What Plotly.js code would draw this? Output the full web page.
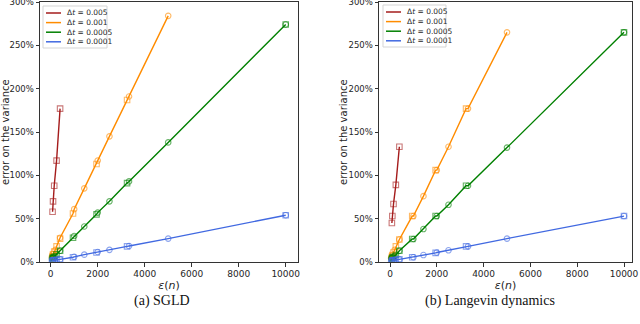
<!DOCTYPE html>
<html><head><meta charset="utf-8">
<script src="https://cdn.plot.ly/plotly-3.0.1.min.js"></script>
<style>html,body{margin:0;padding:0;background:#fff}#chart{width:640px;height:324px}</style>
</head><body><div id="chart"></div>
<script>
// x positions (ε(n)) of the circle-marked and square-marked points
const xCircle = [50, 100, 200, 400, 1000, 1429, 2000, 2500, 3333, 5000, 10000];
const xSquare = [80, 100, 150, 250, 400, 950, 1950, 3250, 10000];

const seriesNames = ['Δ<i>t</i> = 0.005', 'Δ<i>t</i> = 0.001', 'Δ<i>t</i> = 0.0005', 'Δ<i>t</i> = 0.0001'];
const seriesColors = ['#a51c1c', '#ff8c00', '#008000', '#4169e1'];

// (a) SGLD — error on the variance in %
const sgldRedC    = [null, null, null, null, null, null, null, null, null, null, null];
const sgldRedS    = [58, 70, 88, 117, 177, null, null, null, null];
const sgldOrangeC = [6, 9, 14, 28, 61, 85, 117, 145, 191, 284, null];
const sgldOrangeS = [7, 9, 12, 18, 27, 56, 113, 187, null];
const sgldGreenC  = [4, 5, 7, 13, 30, 41, 57, 70, 93, 138, 274];
const sgldGreenS  = [4.5, 5, 6, 9, 13, 28, 55, 91, 274];
const sgldBlueC   = [1.5, 2, 2.5, 3, 6, 8.5, 11.5, 14, 18.5, 27, 54];
const sgldBlueS   = [1.5, 2, 2, 2.5, 3, 5.5, 11, 18, 54];

// (b) Langevin dynamics
const ldRedC    = [null, null, null, null, null, null, null, null, null, null, null];
const ldRedS    = [45, 53, 67, 89, 133, null, null, null, null];
const ldOrangeC = [5, 8, 14, 26, 53, 76, 106, 133, 177, 265, null];
const ldOrangeS = [6, 8, 11, 18, 26, 53, 106, 177, null];
const ldGreenC  = [4, 5, 7, 13, 26.5, 38, 53, 66, 88, 132, 265];
const ldGreenS  = [4, 5, 6, 8, 13, 26.5, 53, 88, 265];
const ldBlueC   = [1, 2, 2.5, 3, 5.5, 8, 11, 13.5, 18, 27, 53];
const ldBlueS   = [1, 2, 2, 2.5, 3, 5.5, 10.5, 18, 53];

const yTicks = [0, 50, 100, 150, 200, 250, 300];
const yTickText = ['0%', '50%', '100%', '150%', '200%', '250%', '300%'];
const xTicks = [0, 2000, 4000, 6000, 8000, 10000];
const captions = ['(a) SGLD', '(b) Langevin dynamics'];
const yTitle = 'error on the variance';

const panels = [
  {xa: 'x', ya: 'y', C: [sgldRedC, sgldOrangeC, sgldGreenC, sgldBlueC], S: [sgldRedS, sgldOrangeS, sgldGreenS, sgldBlueS]},
  {xa: 'x2', ya: 'y2', C: [ldRedC, ldOrangeC, ldGreenC, ldBlueC], S: [ldRedS, ldOrangeS, ldGreenS, ldBlueS]}
];

const W = 640, H = 324;
const px = v => v / W, py = v => 1 - v / H;

function rgba(hex, a) {
  const n = parseInt(hex.slice(1), 16);
  return `rgba(${n >> 16},${(n >> 8) & 255},${n & 255},${a})`;
}

const traces = [];
panels.forEach(p => {
  for (let s = 0; s < 4; s++) {
    const pts = [];
    xCircle.forEach((x, i) => { if (p.C[s][i] != null) pts.push([x, p.C[s][i]]); });
    xSquare.forEach((x, i) => { if (p.S[s][i] != null) pts.push([x, p.S[s][i]]); });
    pts.sort((a, b) => a[0] - b[0] || a[1] - b[1]);
    traces.push({x: pts.map(d => d[0]), y: pts.map(d => d[1]), xaxis: p.xa, yaxis: p.ya,
      mode: 'lines', line: {color: seriesColors[s], width: 1.4}, showlegend: false, hoverinfo: 'skip'});
    traces.push({x: xCircle, y: p.C[s], xaxis: p.xa, yaxis: p.ya, mode: 'markers', showlegend: false,
      marker: {symbol: 'circle-open', size: 5.5, color: rgba(seriesColors[s], 0.6), line: {width: 1.1}}});
    traces.push({x: xSquare, y: p.S[s], xaxis: p.xa, yaxis: p.ya, mode: 'markers', showlegend: false,
      marker: {symbol: 'square-open', size: 5.5, color: rgba(seriesColors[s], 0.6), line: {width: 1.1}}});
  }
});

const xfont = {family: 'DejaVu Sans', size: 9, color: '#262626'};
const yfont = {family: 'DejaVu Sans', size: 8.5, color: '#262626'};
function xax(domain, range, anchor) {
  return {domain, range, autorange: false, anchor, tickmode: 'array', tickvals: xTicks, ticktext: xTicks.map(String),
    ticks: 'outside', ticklen: 3.5, tickcolor: '#333', showline: true, mirror: true, linecolor: '#333', linewidth: 1,
    showgrid: false, zeroline: false, tickfont: xfont, automargin: false, ticklabeloverflow: 'allow',
    title: {text: '<i>ε</i>(<i>n</i>)', font: {family: 'DejaVu Sans', size: 11, color: '#262626'}, standoff: 3}};
}
function yax(domain, anchor) {
  return {domain, range: [0, 300], autorange: false, anchor, tickmode: 'array', tickvals: yTicks, ticktext: yTickText,
    ticks: 'outside', ticklen: 3.5, tickcolor: '#333', showline: true, mirror: true, linecolor: '#333', linewidth: 1,
    showgrid: false, zeroline: false, tickfont: yfont, automargin: false, ticklabeloverflow: 'allow'};
}

const shapes = [], annotations = [];
// legends
const legendBoxes = [{x0: 43, x1: 107, y0: 6, y1: 48}, {x0: 383, x1: 446, y0: 5, y1: 47}];
legendBoxes.forEach(b => {
  shapes.push({type: 'rect', xref: 'paper', yref: 'paper', x0: px(b.x0), x1: px(b.x1), y0: py(b.y1), y1: py(b.y0),
    line: {color: '#d5d5d5', width: 1}, fillcolor: 'rgba(255,255,255,0.85)', layer: 'above'});
  seriesNames.forEach((name, s) => {
    const yy = b.y0 + 7 + s * 9.6;
    shapes.push({type: 'line', xref: 'paper', yref: 'paper', x0: px(b.x0 + 3), x1: px(b.x0 + 18), y0: py(yy), y1: py(yy),
      line: {color: seriesColors[s], width: 1.5}, layer: 'above'});
    annotations.push({xref: 'paper', yref: 'paper', x: px(b.x0 + 22), y: py(yy), xanchor: 'left', yanchor: 'middle',
      text: name, showarrow: false, font: {family: 'DejaVu Sans', size: 7.5, color: '#262626'}});
  });
});
// y-axis titles
[5, 343].forEach(cx => {
  annotations.push({xref: 'paper', yref: 'paper', x: px(cx), y: py(132), xanchor: 'center', yanchor: 'middle',
    text: yTitle, textangle: -90, showarrow: false, font: {family: 'DejaVu Sans', size: 10, color: '#262626'}});
});
// captions
[[162, captions[0]], [490, captions[1]]].forEach(([cx, t]) => {
  annotations.push({xref: 'paper', yref: 'paper', x: px(cx), y: py(301), xanchor: 'center', yanchor: 'middle',
    text: t, showarrow: false, font: {family: 'Liberation Serif', size: 14, color: '#111'}});
});

const layout = {
  width: W, height: H, margin: {l: 0, r: 0, t: 0, b: 0}, paper_bgcolor: '#fff', plot_bgcolor: '#fff',
  showlegend: false,
  xaxis: xax([px(40), px(298)], [-455, 10523], 'y'),
  yaxis: yax([py(262), py(2)], 'x'),
  xaxis2: xax([px(379), px(632)], [-470, 10342], 'y2'),
  yaxis2: yax([py(262), py(2)], 'x2'),
  shapes, annotations
};

Plotly.newPlot('chart', traces, layout, {staticPlot: true});
</script></body></html>
